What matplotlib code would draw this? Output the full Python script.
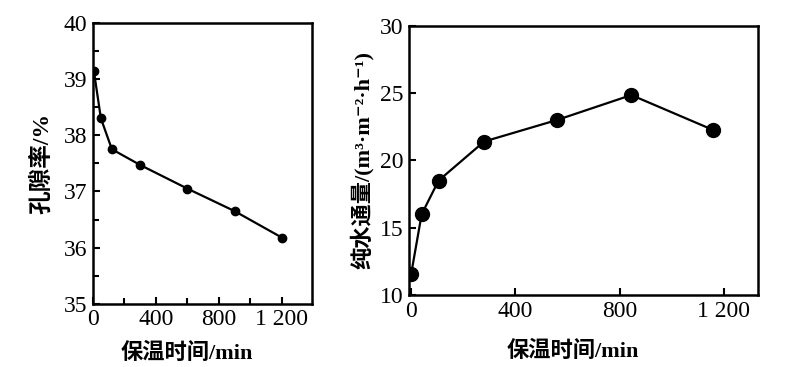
import numpy as np
import matplotlib
matplotlib.use("Agg")
import matplotlib.pyplot as plt
from matplotlib.ticker import MultipleLocator

plt.rcParams['font.family'] = ['Liberation Serif', 'Noto Sans CJK SC', 'DejaVu Sans']

# 左图: 孔隙率
t_left = [5, 50, 120, 300, 600, 900, 1200]
porosity = [39.15, 38.3, 37.75, 37.47, 37.05, 36.65, 36.18]

# 右图: 纯水通量
t_right = [0, 40, 105, 280, 560, 845, 1160]
flux = [11.6, 16.0, 18.5, 21.4, 23.0, 24.85, 22.25]

xticks = [0, 400, 800, 1200]
xticklabels = ['0', '400', '800', '1 200']

fig = plt.figure(figsize=(7.95, 3.67), dpi=100)
ax1 = fig.add_axes([0.117, 0.172, 0.275, 0.766])
ax2 = fig.add_axes([0.514, 0.196, 0.439, 0.734])

for ax in (ax1, ax2):
    for s in ax.spines.values():
        s.set_linewidth(1.8)
    ax.tick_params(direction='in', which='both', top=False, right=False,
                   labelsize=17, width=1.5, pad=4)
    ax.tick_params(which='major', length=5)
    ax.tick_params(which='minor', length=4)
    ax.set_xticks(xticks)
    ax.set_xticklabels(xticklabels)
    ax.xaxis.set_minor_locator(MultipleLocator(200))

ax1.plot(t_left, porosity, 'k-o', lw=1.6, ms=6)
ax1.set_xlim(0, 1390)
ax1.set_ylim(35, 40)
ax1.yaxis.set_major_locator(MultipleLocator(1))
ax1.yaxis.set_minor_locator(MultipleLocator(0.5))
ax1.set_xlabel('保温时间/min', fontsize=16, fontweight='bold', labelpad=9)
ax1.xaxis.label.set_x(0.43)
ax1.set_ylabel('孔隙率/%', fontsize=17, fontweight='bold', labelpad=8)

ax2.plot(t_right, flux, 'k-o', lw=1.6, ms=10)
ax2.set_xlim(-10, 1330)
ax2.set_ylim(10, 30)
ax2.yaxis.set_major_locator(MultipleLocator(5))
ax2.xaxis.set_minor_locator(plt.NullLocator())
ax2.set_xlabel('保温时间/min', fontsize=16, fontweight='bold', labelpad=14)
ax2.xaxis.label.set_x(0.47)
ax2.set_ylabel('纯水通量/(m³·m⁻²·h⁻¹)', fontsize=16, fontweight='bold', labelpad=4)

fig.savefig('out.png', dpi=100)
